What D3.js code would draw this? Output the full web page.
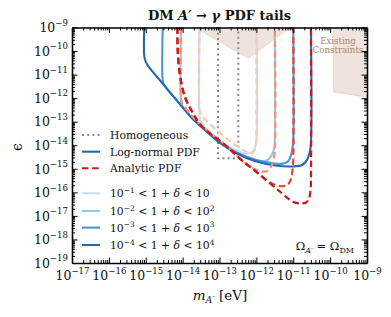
<!DOCTYPE html>
<html>
<head>
<meta charset="utf-8">
<script src="https://cdn.jsdelivr.net/npm/d3@7"></script>
<style>
body { margin: 0; background: #fff; }
svg text { font-family: "DejaVu Serif", "Liberation Serif", serif; fill: #111; }
</style>
</head>
<body>
<div id="chart"></div>
<script>
// all points are [log10 m_A' (eV), log10 epsilon]
var xTickExps = [-17, -16, -15, -14, -13, -12, -11, -10, -9];
var yTickExps = [-9, -10, -11, -12, -13, -14, -15, -16, -17, -18, -19];

var homogeneous = [[-13.04, -9], [-13.04, -14.55], [-12.49, -14.55], [-12.49, -9]];

var lognormal1 = [[-13.54, -9], [-13.54, -12.8], [-13.51, -13.0], [-13.45, -13.12], [-13.39, -13.33],
    [-12.99, -13.84], [-12.58, -14.2], [-12.28, -14.35], [-12.12, -14.3], [-12.04, -14.1], [-12.0, -13.8], [-12.0, -9]];
var lognormal2 = [[-14.04, -9], [-14.04, -12.15], [-14.01, -12.33], [-13.95, -12.46], [-13.72, -12.89],
    [-13.39, -13.36], [-12.99, -13.88], [-12.5, -14.33], [-12.04, -14.6], [-11.79, -14.68], [-11.66, -14.58],
    [-11.56, -14.34], [-11.51, -14.05], [-11.5, -13.8], [-11.5, -9]];
var lognormal3 = [[-14.54, -9], [-14.54, -11.25], [-14.51, -11.42], [-14.45, -11.55], [-14.32, -11.8],
    [-14.02, -12.35], [-13.72, -12.89], [-13.39, -13.35], [-12.99, -13.88], [-12.5, -14.34], [-12.04, -14.62],
    [-11.63, -14.74], [-11.31, -14.79], [-11.14, -14.68], [-11.06, -14.42], [-11.02, -14.1], [-11.0, -13.8], [-11.0, -9]];
var lognormal4 = [[-15.04, -9], [-15.04, -10.21], [-15.0, -10.46], [-14.89, -10.73], [-14.61, -11.25],
    [-14.32, -11.8], [-14.02, -12.35], [-13.72, -12.89], [-13.39, -13.35], [-12.99, -13.9], [-12.5, -14.37],
    [-12.04, -14.67], [-11.49, -14.86], [-11.01, -14.9], [-10.76, -14.84], [-10.63, -14.63], [-10.55, -14.29],
    [-10.52, -13.9], [-10.52, -9]];

var analytic1 = [[-13.54, -9], [-13.54, -12.5], [-13.5, -12.72], [-13.42, -12.86], [-13.12, -13.3],
    [-12.72, -13.82], [-12.34, -14.22], [-12.15, -14.36], [-12.06, -14.25], [-12.01, -13.95], [-12.0, -13.6], [-12.0, -9]];
var analytic2 = [[-14.04, -9], [-14.04, -12.08], [-14.0, -12.28], [-13.91, -12.45], [-13.72, -12.8],
    [-13.49, -13.15], [-12.85, -13.99], [-12.4, -14.63], [-12.1, -14.97], [-11.9, -15.1], [-11.72, -15.1],
    [-11.6, -14.9], [-11.53, -14.55], [-11.5, -14.2], [-11.5, -9]];
var analytic3 = [[-14.14, -9], [-14.14, -9.6], [-14.13, -10.1], [-14.08, -10.94], [-13.94, -11.94],
    [-13.72, -12.63], [-13.49, -13.18], [-12.85, -13.99], [-12.4, -14.63], [-11.96, -15.18], [-11.7, -15.52],
    [-11.5, -15.68], [-11.3, -15.74], [-11.15, -15.68], [-11.06, -15.42], [-11.02, -15.05], [-11.0, -14.6], [-11.0, -9]];
var analytic4 = [[-14.14, -9], [-14.14, -9.6], [-14.13, -10.1], [-14.08, -10.94], [-13.94, -11.94],
    [-13.72, -12.63], [-13.49, -13.18], [-12.85, -13.99], [-12.4, -14.63], [-11.96, -15.18], [-11.36, -15.97],
    [-11.01, -16.4], [-10.82, -16.47], [-10.65, -16.43], [-10.57, -16.24], [-10.53, -15.9], [-10.52, -15.5], [-10.52, -9]];

var constraintsA = [[-13.66, -8.5], [-13.66, -9], [-12.22, -10.31], [-11.09, -9], [-11.09, -8.5]];
var constraintsB = [[-9.91, -8.5], [-9.91, -11.73], [-9, -11.96], [-8.5, -11.96], [-8.5, -8.5]];

var blues = ["#c9ddf0", "#98c5e2", "#4c97ce", "#2369b0"];
var reds = ["#fcc8b6", "#fb8f72", "#ee3f31", "#c8191f"];
var rangeSups = [["−1", ""], ["−2", "2"], ["−3", "3"], ["−4", "4"]];

var lognormal = [lognormal1, lognormal2, lognormal3, lognormal4];
var analytic = [analytic1, analytic2, analytic3, analytic4];

var margin = {top: 27.5, right: 24, bottom: 54, left: 72},
    width = 391 - margin.left - margin.right,
    height = 317 - margin.top - margin.bottom;

var svg = d3.select("#chart").append("svg")
    .attr("width", 391)
    .attr("height", 317);

var g = svg.append("g")
    .attr("transform", "translate(" + margin.left + "," + margin.top + ")");

var x = d3.scaleLog().domain([1e-17, 1e-9]).range([0, width]);
var y = d3.scaleLog().domain([1e-19, 1e-9]).range([height, 0]);

g.append("clipPath").attr("id", "plotclip")
    .append("rect").attr("width", width).attr("height", height);

var plot = g.append("g").attr("clip-path", "url(#plotclip)");

var line = d3.line()
    .x(function (d) { return x(Math.pow(10, d[0])); })
    .y(function (d) { return y(Math.pow(10, d[1])); })
    .curve(d3.curveCatmullRom.alpha(0.5));

var area = d3.line()
    .x(function (d) { return x(Math.pow(10, d[0])); })
    .y(function (d) { return y(Math.pow(10, d[1])); });

// existing constraints shading
[constraintsA, constraintsB].forEach(function (c) {
    plot.append("path")
        .attr("d", area(c) + "Z")
        .attr("fill", "#eee4dd")
        .attr("stroke", "#e2d3c9")
        .attr("stroke-width", 0.8);
});

g.append("text").attr("x", 266).attr("y", 16).attr("text-anchor", "middle")
    .style("font-size", "8.6px").style("fill", "#b08468").text("Existing");
g.append("text").attr("x", 266).attr("y", 25).attr("text-anchor", "middle")
    .style("font-size", "8.6px").style("fill", "#b08468").text("Constraints");

// homogeneous box
plot.append("path")
    .attr("d", d3.line()
        .x(function (d) { return x(Math.pow(10, d[0])); })
        .y(function (d) { return y(Math.pow(10, d[1])); })(homogeneous))
    .attr("fill", "none")
    .attr("stroke", "#8a8a8a")
    .attr("stroke-width", 2)
    .attr("stroke-dasharray", "2,3.2");

// log-normal PDF, lightest first
lognormal.forEach(function (c, i) {
    plot.append("path")
        .attr("d", line(c))
        .attr("fill", "none")
        .attr("stroke", blues[i])
        .attr("stroke-width", 2.1);
});

// analytic PDF, dashed
analytic.forEach(function (c, i) {
    plot.append("path")
        .attr("d", line(c))
        .attr("fill", "none")
        .attr("stroke", reds[i])
        .attr("stroke-width", 2.2)
        .attr("stroke-dasharray", "6.5,3.6");
});

// axes
function supLabel(sel, exp, base, sup) {
    sel.text(null);
    sel.append("tspan").style("font-size", base + "px").text("10");
    sel.append("tspan").style("font-size", sup + "px").attr("dy", "-0.75em").text("−" + Math.abs(exp));
}

var xMinor = [], yMinor = [];
xTickExps.slice(0, -1).forEach(function (k) {
    for (var j = 2; j < 10; j++) xMinor.push(j * Math.pow(10, k));
});
yTickExps.slice(1).forEach(function (k) {
    for (var j = 2; j < 10; j++) yMinor.push(j * Math.pow(10, k));
});

var xMajor = xTickExps.map(function (k) { return Math.pow(10, k); });
var yMajor = yTickExps.map(function (k) { return Math.pow(10, k); });

function styleAxis(a) {
    a.select(".domain").attr("stroke", "#000").attr("stroke-width", 1.6);
    a.selectAll(".tick line").attr("stroke", "#000").attr("stroke-width", 1);
}

var xb = g.append("g").attr("transform", "translate(0," + height + ")")
    .call(d3.axisBottom(x).tickValues(xMajor).tickSize(-5.5).tickSizeOuter(0).tickPadding(10).tickFormat(""));
xb.selectAll(".tick text").each(function (d, i) {
    supLabel(d3.select(this), xTickExps[i], 12.5, 8.6);
});
styleAxis(xb);
g.append("g").attr("transform", "translate(0," + height + ")")
    .call(d3.axisBottom(x).tickValues(xMinor).tickSize(-3).tickSizeOuter(0).tickFormat(""))
    .call(styleAxis).select(".domain").remove();

var xt = g.append("g")
    .call(d3.axisTop(x).tickValues(xMajor).tickSize(-5.5).tickSizeOuter(0).tickFormat(""));
styleAxis(xt);
g.append("g")
    .call(d3.axisTop(x).tickValues(xMinor).tickSize(-3).tickSizeOuter(0).tickFormat(""))
    .call(styleAxis).select(".domain").remove();

var yl = g.append("g")
    .call(d3.axisLeft(y).tickValues(yMajor).tickSize(-5.5).tickSizeOuter(0).tickPadding(4).tickFormat(""));
yl.selectAll(".tick text").each(function (d, i) {
    supLabel(d3.select(this).attr("dy", "0.42em"), yTickExps[i], 12.5, 8.6);
});
styleAxis(yl);
g.append("g")
    .call(d3.axisLeft(y).tickValues(yMinor).tickSize(-3).tickSizeOuter(0).tickFormat(""))
    .call(styleAxis).select(".domain").remove();

var yr = g.append("g").attr("transform", "translate(" + width + ",0)")
    .call(d3.axisRight(y).tickValues(yMajor).tickSize(-5.5).tickSizeOuter(0).tickFormat(""));
styleAxis(yr);
g.append("g").attr("transform", "translate(" + width + ",0)")
    .call(d3.axisRight(y).tickValues(yMinor).tickSize(-3).tickSizeOuter(0).tickFormat(""))
    .call(styleAxis).select(".domain").remove();

// axis labels and title
var xl = svg.append("text").attr("x", 220).attr("y", 300).attr("text-anchor", "middle").style("font-size", "13.5px");
xl.append("tspan").style("font-style", "italic").text("m");
xl.append("tspan").style("font-size", "9.5px").style("font-style", "italic").attr("dy", "3").text("A′");
xl.append("tspan").attr("dy", "-3").text(" [eV]");

svg.append("text")
    .attr("transform", "translate(22,147) rotate(-90)")
    .attr("text-anchor", "middle")
    .style("font-size", "14px")
    .text("ϵ");

var title = svg.append("text").attr("x", 219.5).attr("y", 20).attr("text-anchor", "middle")
    .style("font-size", "13px").style("font-weight", "bold");
title.append("tspan").text("DM ");
title.append("tspan").style("font-style", "italic").text("A′");
title.append("tspan").text(" → ");
title.append("tspan").style("font-style", "italic").text("γ");
title.append("tspan").text(" PDF tails");

var om = svg.append("text").attr("x", 354).attr("y", 250).attr("text-anchor", "end").style("font-size", "11.5px");
om.append("tspan").text("Ω");
om.append("tspan").style("font-size", "8px").style("font-style", "italic").attr("dy", "3").text("A′");
om.append("tspan").attr("dy", "-3").text(" = Ω");
om.append("tspan").style("font-size", "8px").attr("dy", "3").text("DM");

// legend
var legend = svg.append("g").attr("transform", "translate(82,0)");
var legendTop = [
    {label: "Homogeneous", color: "#8a8a8a", dash: "2,3.2", y: 135},
    {label: "Log-normal PDF", color: blues[3], dash: null, y: 151.7},
    {label: "Analytic PDF", color: reds[3], dash: "6.5,3.6", y: 168.3}
];
legendTop.forEach(function (d) {
    legend.append("line").attr("x1", 0).attr("x2", 18).attr("y1", d.y).attr("y2", d.y)
        .attr("stroke", d.color).attr("stroke-width", 2.1).attr("stroke-dasharray", d.dash);
    legend.append("text").attr("x", 28).attr("y", d.y + 4).style("font-size", "10.8px").text(d.label);
});
var rangeY = [193.3, 211, 227.6, 245];
rangeSups.forEach(function (s, i) {
    legend.append("line").attr("x1", 0).attr("x2", 18).attr("y1", rangeY[i]).attr("y2", rangeY[i])
        .attr("stroke", blues[i]).attr("stroke-width", 2.1);
    var t = legend.append("text").attr("x", 28).attr("y", rangeY[i] + 4).style("font-size", "10.8px");
    t.append("tspan").text("10");
    t.append("tspan").style("font-size", "7.5px").attr("dy", "-4.5").text(s[0]);
    t.append("tspan").attr("dy", "4.5").text(" < 1 + ");
    t.append("tspan").style("font-style", "italic").text("δ");
    t.append("tspan").text(" < 10");
    if (s[1]) t.append("tspan").style("font-size", "7.5px").attr("dy", "-4.5").text(s[1]);
});
</script>
</body>
</html>
